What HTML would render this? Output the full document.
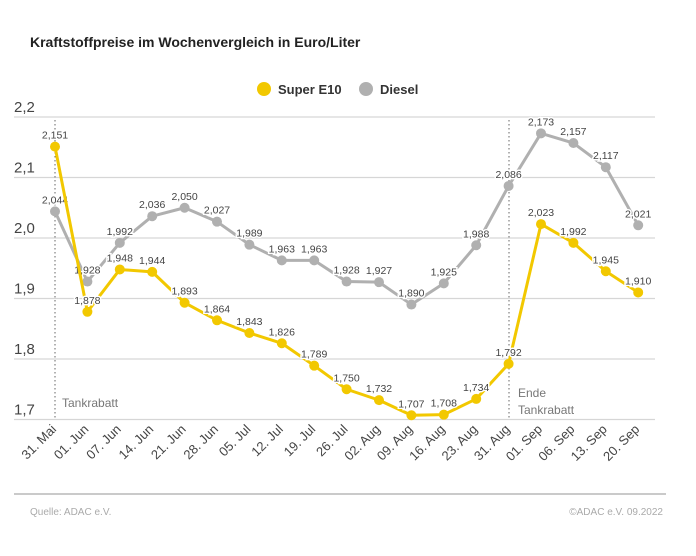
<!DOCTYPE html>
<html><head><meta charset="utf-8"><style>
body{margin:0;background:#fff;width:696px;height:551px;overflow:hidden;font-family:"Liberation Sans",sans-serif}
</style></head><body>
<svg width="696" height="551" viewBox="0 0 696 551" xmlns="http://www.w3.org/2000/svg" font-family="Liberation Sans, sans-serif">
<text x="30" y="47" font-size="14" font-weight="bold" fill="#222">Kraftstoffpreise im Wochenvergleich in Euro/Liter</text>
<circle cx="264" cy="89" r="7" fill="#f2c800"/><text x="278" y="94" font-size="13" font-weight="bold" fill="#333">Super E10</text>
<circle cx="366" cy="89" r="7" fill="#b0b0b0"/><text x="380" y="94" font-size="13" font-weight="bold" fill="#333">Diesel</text>
<g id="grid" stroke="#d6d6d6" stroke-width="1.2"></g>
<g id="ylab" font-size="15" fill="#444"></g>
<line x1="55" y1="120" x2="55" y2="420" stroke="#666" stroke-dasharray="1.5,2.5"/>
<line x1="509" y1="120" x2="509" y2="420" stroke="#666" stroke-dasharray="1.5,2.5"/>
<text x="62" y="407" font-size="12" fill="#777">Tankrabatt</text>
<text x="518" y="397" font-size="12" fill="#777">Ende</text>
<text x="518" y="414" font-size="12" fill="#777">Tankrabatt</text>
<g id="series"></g>
<g id="xlab" font-size="13" fill="#444"></g>
<line x1="14" y1="494" x2="666" y2="494" stroke="#aaa" stroke-width="1.2"/>
<text x="30" y="515" font-size="10" fill="#aaa">Quelle: ADAC e.V.</text>
<text x="663" y="515" font-size="10" fill="#aaa" text-anchor="end">©ADAC e.V.  09.2022</text>
</svg>
<script>
var NS="http://www.w3.org/2000/svg";
function el(p,t,a,txt){var e=document.createElementNS(NS,t);for(var k in a)e.setAttribute(k,a[k]);if(txt!=null)e.textContent=txt;document.getElementById(p).appendChild(e);return e;}
function Y(v){return 117+(2.2-v)*605;}
function X(i){return 55+i*32.4;}
["2,2","2,1","2,0","1,9","1,8","1,7"].forEach(function(l,i){var y=117+i*60.5;el("grid","line",{x1:14,x2:655,y1:y,y2:y});el("ylab","text",{x:14,y:y-5},l);});
var e10=[2.151,1.878,1.948,1.944,1.893,1.864,1.843,1.826,1.789,1.750,1.732,1.707,1.708,1.734,1.792,2.023,1.992,1.945,1.910];
var dsl=[2.044,1.928,1.992,2.036,2.050,2.027,1.989,1.963,1.963,1.928,1.927,1.890,1.925,1.988,2.086,2.173,2.157,2.117,2.021];
function draw(d,c){var p=d.map(function(v,i){return X(i)+","+Y(v)}).join(" ");
el("series","polyline",{points:p,fill:"none",stroke:c,"stroke-width":3,"stroke-linejoin":"round"});
d.forEach(function(v,i){el("series","circle",{cx:X(i),cy:Y(v),r:5,fill:c});
el("series","text",{x:X(i),y:Y(v)-8,"font-size":10.5,fill:"#444","text-anchor":"middle",stroke:"#fff","stroke-width":3,"paint-order":"stroke"},v.toFixed(3).replace(".",","));});}
draw(dsl,"#b0b0b0");draw(e10,"#f2c800");
["31. Mai","01. Jun","07. Jun","14. Jun","21. Jun","28. Jun","05. Jul","12. Jul","19. Jul","26. Jul","02. Aug","09. Aug","16. Aug","23. Aug","31. Aug","01. Sep","06. Sep","13. Sep","20. Sep"].forEach(function(l,i){
var x=X(i)+2,y=430;el("xlab","text",{x:x,y:y,"text-anchor":"end",transform:"rotate(-45 "+x+" "+y+")"},l);});
</script>
</body></html>
